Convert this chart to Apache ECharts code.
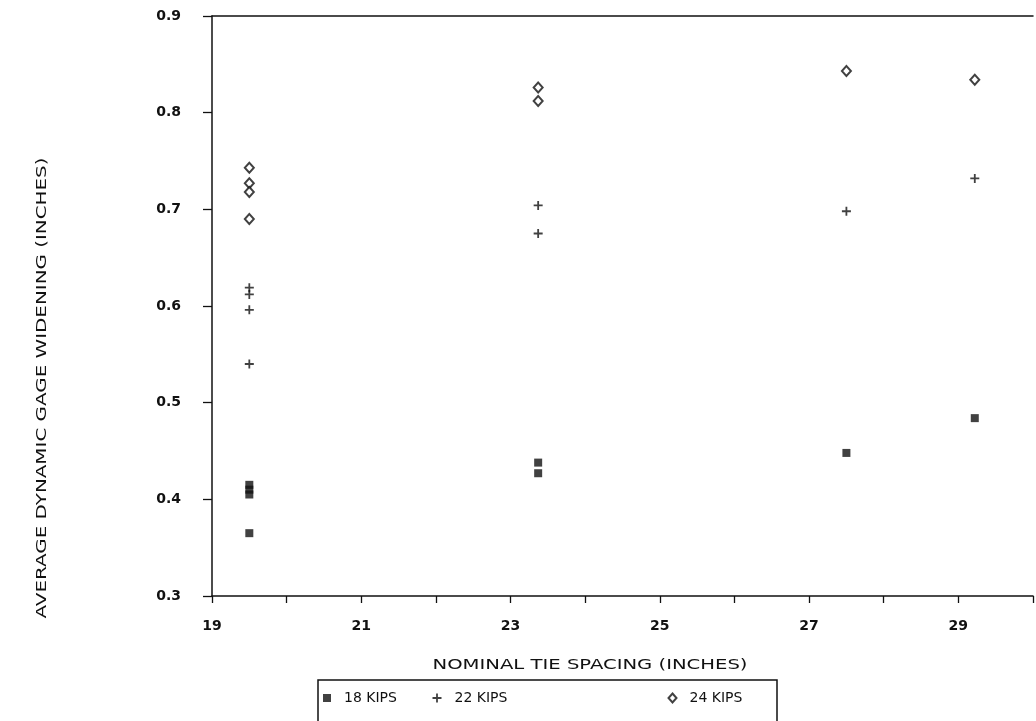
<!DOCTYPE html>
<html><head><meta charset="utf-8">
<script src="https://cdn.jsdelivr.net/npm/echarts/dist/echarts.min.js"></script>
<style>html,body{margin:0;padding:0;background:#fff}#c{width:1036px;height:721px}</style>
</head><body><div id="c"></div>
<script>
// ---- data ----
const seriesNames = ['18 KIPS', '22 KIPS', '24 KIPS'];
const kips18Spacing = [19.5, 19.5, 19.5, 19.5, 23.37, 23.37, 27.5, 29.22];
const kips18Widening = [0.415, 0.410, 0.405, 0.365, 0.438, 0.427, 0.448, 0.484];
const kips22Spacing = [19.5, 19.5, 19.5, 19.5, 23.37, 23.37, 27.5, 29.22];
const kips22Widening = [0.619, 0.612, 0.596, 0.540, 0.704, 0.675, 0.698, 0.732];
const kips24Spacing = [19.5, 19.5, 19.5, 19.5, 23.37, 23.37, 27.5, 29.22];
const kips24Widening = [0.743, 0.727, 0.718, 0.690, 0.826, 0.812, 0.843, 0.834];
const xTickLabels = ['19', '21', '23', '25', '27', '29'];
const yTickLabels = ['0.3', '0.4', '0.5', '0.6', '0.7', '0.8', '0.9'];
const xTitle = 'NOMINAL TIE SPACING (INCHES)';
const yTitle = 'AVERAGE DYNAMIC GAGE WIDENING (INCHES)';

const zip = (xs, ys) => xs.map((x, i) => [x, ys[i]]);
const INK = '#111';
const plusPath = 'path://M4,0H6V4H10V6H6V10H4V6H0V4H4Z';
const legendText = { fontFamily: 'DejaVu Sans', fontSize: 14, color: INK, padding: [0, 0, 0, 8] };

const chart = echarts.init(document.getElementById('c'), null, { renderer: 'canvas' });
chart.setOption({
  animation: false,
  backgroundColor: '#fff',
  grid: { left: 212, top: 16, bottom: 125, right: -9 },
  xAxis: [{
    type: 'value', min: 19, max: 30, interval: 1, position: 'bottom',
    axisLine: { show: true, onZero: false, lineStyle: { color: INK, width: 1.5 } },
    axisTick: { show: true, length: 7, inside: false, lineStyle: { color: INK, width: 1.3 } },
    axisLabel: { margin: 23, fontFamily: 'DejaVu Sans', fontWeight: 'bold', fontSize: 14, color: INK,
      formatter: v => xTickLabels.includes(String(v)) ? String(v) : '' },
    splitLine: { show: false }
  }, {
    type: 'value', min: 19, max: 30, interval: 1, position: 'top',
    axisLine: { show: true, onZero: false, lineStyle: { color: INK, width: 1.5 } },
    axisTick: { show: false }, axisLabel: { show: false }, splitLine: { show: false }
  }],
  yAxis: {
    type: 'value', min: 0.3, max: 0.9, interval: 0.1,
    axisLine: { show: true, onZero: false, lineStyle: { color: INK, width: 1.5 } },
    axisTick: { show: true, length: 9, inside: false, lineStyle: { color: INK, width: 1.3 } },
    axisLabel: { margin: 31, fontFamily: 'DejaVu Sans', fontWeight: 'bold', fontSize: 14, color: INK,
      formatter: v => yTickLabels.find(t => Math.abs(parseFloat(t) - v) < 1e-6) || '' },
    splitLine: { show: false }
  },
  legend: [
    { data: [seriesNames[0]], left: 323, top: 691, padding: 0, itemWidth: 8, itemHeight: 8, textStyle: legendText, selectedMode: false },
    { data: [seriesNames[1]], left: 432.5, top: 691, padding: 0, itemWidth: 9, itemHeight: 9, textStyle: legendText, selectedMode: false },
    { data: [seriesNames[2]], left: 667.5, top: 691, padding: 0, itemWidth: 8, itemHeight: 9, textStyle: legendText, selectedMode: false }
  ],
  graphic: [
    { type: 'rect', shape: { x: 318, y: 680, width: 459, height: 80 }, style: { fill: 'none', stroke: INK, lineWidth: 1.5 }, silent: true },
    { type: 'text', x: 590, y: 665, scaleX: 1.4, style: { text: xTitle, align: 'center', verticalAlign: 'middle', font: '14px "DejaVu Sans"', fill: INK } },
    { type: 'text', x: 42, y: 388, rotation: Math.PI / 2, scaleX: 1.42, style: { text: yTitle, align: 'center', verticalAlign: 'middle', font: '14px "DejaVu Sans"', fill: INK } }
  ],
  series: [
    { type: 'scatter', name: seriesNames[0], data: zip(kips18Spacing, kips18Widening), symbol: 'rect', symbolSize: 8, itemStyle: { color: INK } },
    { type: 'scatter', name: seriesNames[1], data: zip(kips22Spacing, kips22Widening), symbol: plusPath, symbolSize: 9, itemStyle: { color: INK } },
    { type: 'scatter', name: seriesNames[2], data: zip(kips24Spacing, kips24Widening), symbol: 'diamond', symbolSize: [9, 10], itemStyle: { color: '#fff', borderColor: INK, borderWidth: 2 } }
  ]
});
</script>
</body></html>
